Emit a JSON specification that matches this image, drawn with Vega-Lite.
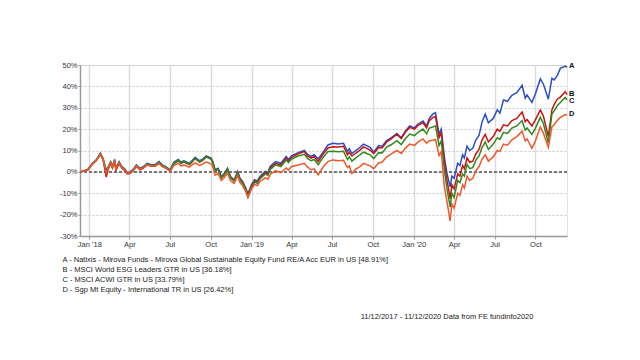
{
  "$schema": "https://vega.github.io/schema/vega-lite/v6.json",
  "autosize": {"type": "none"},
  "width": 487,
  "height": 171,
  "padding": {"left": 80, "top": 65, "right": 73, "bottom": 124},
  "background": "white",
  "config": {
    "font": "Liberation Sans",
    "view": {"stroke": "#e2e2e2"},
    "axis": {"labelFont": "Liberation Sans", "labelFontSize": 7.5, "labelColor": "#333", "domainColor": "#999", "domainWidth": 1.5, "tickColor": "#999", "tickSize": 2},
    "legend": {"labelFont": "Liberation Sans"}
  },
  "title": {"text": "11/12/2017 - 11/12/2020 Data from FE fundinfo2020", "orient": "bottom", "anchor": "end", "fontSize": 7.5, "fontWeight": "normal", "color": "#222", "font": "Liberation Sans", "offset": 19, "dx": -41},
  "data": {"values": [
    {"d":"2017-12-11","A":0,"B":0,"C":0,"D":0},
    {"d":"2017-12-18","A":0.4,"B":0.3,"C":0.3,"D":0.3},
    {"d":"2017-12-29","A":1.2,"B":1,"C":1,"D":1},
    {"d":"2018-01-08","A":4,"B":3.6,"C":3.8,"D":3.7},
    {"d":"2018-01-17","A":5.8,"B":5.3,"C":5.5,"D":5.5},
    {"d":"2018-01-26","A":8.8,"B":8.2,"C":8.5,"D":8.3},
    {"d":"2018-02-01","A":6.2,"B":5.6,"C":6,"D":6},
    {"d":"2018-02-08","A":0.8,"B":-2.4,"C":0,"D":-0.5},
    {"d":"2018-02-13","A":2.6,"B":1.5,"C":2.2,"D":2},
    {"d":"2018-02-18","A":4.8,"B":4,"C":4.5,"D":4.3},
    {"d":"2018-02-22","A":2.6,"B":1.8,"C":2.3,"D":2.2},
    {"d":"2018-02-27","A":5.8,"B":4.8,"C":5.3,"D":5},
    {"d":"2018-03-02","A":1.8,"B":0.8,"C":1.5,"D":1.3},
    {"d":"2018-03-09","A":4.8,"B":3.8,"C":4.3,"D":4.2},
    {"d":"2018-03-15","A":2.6,"B":1.8,"C":2.3,"D":2.2},
    {"d":"2018-03-22","A":1.3,"B":0.5,"C":1,"D":0.8},
    {"d":"2018-03-27","A":-0.3,"B":-1,"C":-0.5,"D":-0.6},
    {"d":"2018-04-02","A":0,"B":-0.8,"C":-0.3,"D":-0.4},
    {"d":"2018-04-09","A":1,"B":0.3,"C":0.7,"D":0.6},
    {"d":"2018-04-17","A":3.3,"B":2.6,"C":3,"D":2.8},
    {"d":"2018-04-25","A":1.7,"B":1,"C":1.4,"D":1.2},
    {"d":"2018-05-03","A":2.5,"B":1.8,"C":2.2,"D":2},
    {"d":"2018-05-11","A":4,"B":3.2,"C":3.6,"D":3.4},
    {"d":"2018-05-21","A":3.3,"B":2.6,"C":3,"D":2.8},
    {"d":"2018-05-29","A":3.4,"B":2.6,"C":3.1,"D":2.8},
    {"d":"2018-06-07","A":4.8,"B":4,"C":4.4,"D":4},
    {"d":"2018-06-14","A":3.3,"B":2.6,"C":3,"D":2.6},
    {"d":"2018-06-22","A":2.5,"B":1.8,"C":2.2,"D":1.7},
    {"d":"2018-07-02","A":1,"B":0.3,"C":0.8,"D":0.3},
    {"d":"2018-07-10","A":4.5,"B":3.8,"C":4,"D":3},
    {"d":"2018-07-20","A":5.8,"B":5.2,"C":5.4,"D":4},
    {"d":"2018-07-26","A":4.6,"B":4,"C":4.2,"D":2.8},
    {"d":"2018-08-02","A":5.2,"B":4.6,"C":4.8,"D":3.2},
    {"d":"2018-08-14","A":4,"B":3.4,"C":3.6,"D":2.2},
    {"d":"2018-08-21","A":5.4,"B":4.8,"C":5,"D":3.4},
    {"d":"2018-08-27","A":6.8,"B":6.2,"C":6.4,"D":4.2},
    {"d":"2018-09-06","A":5.2,"B":4.6,"C":4.8,"D":3},
    {"d":"2018-09-13","A":6,"B":5.4,"C":5.5,"D":3.6},
    {"d":"2018-09-21","A":7.5,"B":7,"C":7,"D":4.6},
    {"d":"2018-10-02","A":6.5,"B":6,"C":6,"D":3.8},
    {"d":"2018-10-06","A":4.8,"B":4.3,"C":4.3,"D":2.2},
    {"d":"2018-10-11","A":1,"B":0.5,"C":0.6,"D":-1.5},
    {"d":"2018-10-18","A":1.7,"B":1.2,"C":1.2,"D":-0.8},
    {"d":"2018-10-25","A":-2.2,"B":-2.8,"C":-2.8,"D":-4},
    {"d":"2018-11-01","A":-0.6,"B":-1.2,"C":-1.2,"D":-2.6},
    {"d":"2018-11-08","A":1.7,"B":1.1,"C":1,"D":-0.6},
    {"d":"2018-11-15","A":-2.2,"B":-2.8,"C":-2.8,"D":-4.2},
    {"d":"2018-11-23","A":-3.7,"B":-4.2,"C":-4.3,"D":-5.4},
    {"d":"2018-12-01","A":0.2,"B":-0.4,"C":-0.6,"D":-1.8},
    {"d":"2018-12-06","A":-3,"B":-3.6,"C":-3.8,"D":-5},
    {"d":"2018-12-12","A":-4.5,"B":-5.1,"C":-5.3,"D":-6.4},
    {"d":"2018-12-19","A":-7.6,"B":-8,"C":-8.4,"D":-9.2},
    {"d":"2018-12-24","A":-10.3,"B":-11,"C":-11.8,"D":-12},
    {"d":"2019-01-01","A":-6,"B":-6.6,"C":-7.2,"D":-8},
    {"d":"2019-01-08","A":-3.7,"B":-4.3,"C":-4.8,"D":-5.8},
    {"d":"2019-01-14","A":-4.2,"B":-4.8,"C":-5.3,"D":-6.4},
    {"d":"2019-01-20","A":-2.2,"B":-2.8,"C":-3.3,"D":-4.5},
    {"d":"2019-02-01","A":0.2,"B":-0.4,"C":-1,"D":-2.8},
    {"d":"2019-02-07","A":-0.4,"B":-1,"C":-1.6,"D":-3.4},
    {"d":"2019-02-12","A":2.5,"B":1.8,"C":1.2,"D":-1.2},
    {"d":"2019-02-24","A":4.8,"B":4,"C":3.3,"D":0.6},
    {"d":"2019-03-08","A":4,"B":3.2,"C":2.5,"D":-0.4},
    {"d":"2019-03-20","A":7.2,"B":6.4,"C":5.6,"D":1.8},
    {"d":"2019-03-25","A":5.8,"B":5,"C":4.3,"D":0.8},
    {"d":"2019-04-01","A":7.5,"B":6.8,"C":6,"D":2.5},
    {"d":"2019-04-16","A":9,"B":8.4,"C":7.4,"D":3.2},
    {"d":"2019-04-30","A":10,"B":9.5,"C":8.2,"D":4},
    {"d":"2019-05-07","A":8.2,"B":7.5,"C":6.3,"D":2.2},
    {"d":"2019-05-15","A":7.2,"B":6.4,"C":5.2,"D":1},
    {"d":"2019-05-22","A":8,"B":7.2,"C":5.8,"D":1.4},
    {"d":"2019-05-31","A":6,"B":4.8,"C":3.3,"D":-1.4},
    {"d":"2019-06-12","A":9.5,"B":8.6,"C":7,"D":2.5},
    {"d":"2019-06-22","A":12.6,"B":11.2,"C":9.5,"D":4.8},
    {"d":"2019-07-03","A":13.4,"B":11.8,"C":9.6,"D":5.6},
    {"d":"2019-07-15","A":13,"B":11.6,"C":9.4,"D":5.2},
    {"d":"2019-07-27","A":13.4,"B":12,"C":9.6,"D":5.4},
    {"d":"2019-08-05","A":9.5,"B":8,"C":5.8,"D":2},
    {"d":"2019-08-09","A":10.8,"B":9.2,"C":7,"D":2.8},
    {"d":"2019-08-15","A":8.5,"B":7.4,"C":5,"D":-0.8},
    {"d":"2019-08-23","A":9.8,"B":8.6,"C":6.4,"D":1.2},
    {"d":"2019-09-02","A":11.5,"B":10.2,"C":8,"D":2.5},
    {"d":"2019-09-10","A":13,"B":11.7,"C":9.2,"D":4},
    {"d":"2019-09-25","A":11.5,"B":10.2,"C":8,"D":2.8},
    {"d":"2019-10-03","A":9.2,"B":8.5,"C":6.2,"D":1.5},
    {"d":"2019-10-14","A":12.3,"B":11.4,"C":9,"D":4.2},
    {"d":"2019-10-22","A":12,"B":11.2,"C":8.8,"D":4.6},
    {"d":"2019-11-01","A":14.6,"B":14,"C":11.6,"D":7},
    {"d":"2019-11-12","A":16,"B":15.5,"C":12.8,"D":8.4},
    {"d":"2019-11-24","A":18,"B":17.6,"C":14.6,"D":10},
    {"d":"2019-12-04","A":16,"B":15.6,"C":12.8,"D":8.6},
    {"d":"2019-12-13","A":19,"B":18.5,"C":15.5,"D":11},
    {"d":"2019-12-23","A":21.5,"B":20.8,"C":17.7,"D":13},
    {"d":"2020-01-03","A":20.6,"B":20,"C":17,"D":12.4},
    {"d":"2020-01-10","A":22.3,"B":21.6,"C":18.4,"D":13.8},
    {"d":"2020-01-22","A":23.8,"B":23,"C":20,"D":15.4},
    {"d":"2020-01-30","A":21.5,"B":20.6,"C":17.8,"D":13.4},
    {"d":"2020-02-05","A":25,"B":24,"C":20.5,"D":14.6},
    {"d":"2020-02-13","A":27,"B":25.4,"C":21,"D":14.8},
    {"d":"2020-02-19","A":27.7,"B":26,"C":21.5,"D":15.2},
    {"d":"2020-02-27","A":17.7,"B":16,"C":12.3,"D":7.7},
    {"d":"2020-03-03","A":20,"B":18.5,"C":14.5,"D":9.5},
    {"d":"2020-03-10","A":7,"B":4.6,"C":0.8,"D":-7},
    {"d":"2020-03-16","A":-0.8,"B":-4,"C":-8,"D":-14},
    {"d":"2020-03-23","A":-7,"B":-12.5,"C":-16.5,"D":-23},
    {"d":"2020-03-27","A":-2,"B":-6,"C":-10,"D":-15},
    {"d":"2020-04-01","A":-3,"B":-8,"C":-12,"D":-17},
    {"d":"2020-04-09","A":4,"B":-1,"C":-4,"D":-10},
    {"d":"2020-04-14","A":3,"B":-2,"C":-5,"D":-11},
    {"d":"2020-04-20","A":8,"B":3,"C":-1,"D":-6},
    {"d":"2020-04-24","A":6.5,"B":1.5,"C":-2,"D":-7.5},
    {"d":"2020-04-30","A":12,"B":6.5,"C":3.5,"D":-2},
    {"d":"2020-05-06","A":10,"B":4.5,"C":1.5,"D":-4},
    {"d":"2020-05-13","A":11,"B":5,"C":2,"D":-3},
    {"d":"2020-05-20","A":15,"B":8.5,"C":5.5,"D":0.5},
    {"d":"2020-05-27","A":17,"B":10.5,"C":7.5,"D":2.5},
    {"d":"2020-06-03","A":23.5,"B":15,"C":11.5,"D":6},
    {"d":"2020-06-10","A":27,"B":17.5,"C":14,"D":8},
    {"d":"2020-06-17","A":23,"B":14,"C":10.5,"D":5},
    {"d":"2020-06-28","A":25,"B":16.5,"C":13,"D":7},
    {"d":"2020-07-07","A":29,"B":20,"C":16,"D":10},
    {"d":"2020-07-13","A":27.5,"B":19,"C":15.2,"D":9.6},
    {"d":"2020-07-21","A":33.6,"B":22,"C":18.5,"D":13},
    {"d":"2020-07-30","A":33,"B":21.5,"C":18,"D":12.5},
    {"d":"2020-08-09","A":35.8,"B":24,"C":20.5,"D":15},
    {"d":"2020-08-20","A":37,"B":25,"C":21.5,"D":16.5},
    {"d":"2020-09-01","A":40.5,"B":28,"C":24,"D":19},
    {"d":"2020-09-08","A":34.5,"B":23.5,"C":19.5,"D":14.5},
    {"d":"2020-09-12","A":36,"B":24.5,"C":20.5,"D":15.5},
    {"d":"2020-09-23","A":32.5,"B":21.5,"C":17.5,"D":11},
    {"d":"2020-09-30","A":36,"B":24,"C":20,"D":14},
    {"d":"2020-10-12","A":43.5,"B":29,"C":25.5,"D":21},
    {"d":"2020-10-19","A":41,"B":26,"C":22.5,"D":18},
    {"d":"2020-10-30","A":34,"B":16.5,"C":13.5,"D":11.5},
    {"d":"2020-11-07","A":43.8,"B":29,"C":27,"D":21},
    {"d":"2020-11-12","A":43,"B":31.5,"C":28.5,"D":22},
    {"d":"2020-11-19","A":45,"B":34,"C":31,"D":24},
    {"d":"2020-11-26","A":48.4,"B":35,"C":32.5,"D":25.5},
    {"d":"2020-12-07","A":49.5,"B":37.5,"C":34.8,"D":26.8},
    {"d":"2020-12-11","A":48.91,"B":36.18,"C":33.79,"D":26.42}
  ]},
  "transform": [{"fold": ["A", "B", "C", "D"], "as": ["s", "v"]}],
  "encoding": {
    "x": {
      "field": "d", "type": "temporal", "title": null,
      "scale": {"type": "utc", "domain": [{"year": 2017, "month": 12, "date": 11, "utc": true}, {"year": 2020, "month": 12, "date": 11, "utc": true}]},
      "axis": {
        "values": [
          {"year": 2018, "month": 1, "date": 1, "utc": true},
          {"year": 2018, "month": 4, "date": 1, "utc": true},
          {"year": 2018, "month": 7, "date": 1, "utc": true},
          {"year": 2018, "month": 10, "date": 1, "utc": true},
          {"year": 2019, "month": 1, "date": 1, "utc": true},
          {"year": 2019, "month": 4, "date": 1, "utc": true},
          {"year": 2019, "month": 7, "date": 1, "utc": true},
          {"year": 2019, "month": 10, "date": 1, "utc": true},
          {"year": 2020, "month": 1, "date": 1, "utc": true},
          {"year": 2020, "month": 4, "date": 1, "utc": true},
          {"year": 2020, "month": 7, "date": 1, "utc": true},
          {"year": 2020, "month": 10, "date": 1, "utc": true}
        ],
        "labelExpr": "utcFormat(datum.value, '%m') == '01' ? utcFormat(datum.value, \"%b '%y\") : utcFormat(datum.value, '%b')",
        "grid": true, "gridColor": "#dcdcdc", "gridWidth": 1.5,
        "labelPadding": 1, "tickSize": 3, "labelAlign": "center"
      }
    },
    "y": {
      "field": "v", "type": "quantitative", "title": null,
      "scale": {"domain": [-30, 50], "nice": false},
      "axis": {
        "values": [-30, -20, -10, 0, 10, 20, 30, 40, 50],
        "labelExpr": "datum.value + '%'",
        "grid": true, "gridColor": "#c8c8c8", "gridDash": [2, 2], "gridWidth": 1,
        "labelPadding": 1, "tickSize": 2
      }
    }
  },
  "layer": [
    {
      "mark": {"type": "rule", "color": "#777", "strokeDash": [3, 2], "strokeWidth": 1},
      "encoding": {"y": {"datum": 0}, "x": null}
    },
    {
      "mark": {"type": "line", "strokeWidth": 1.5, "interpolate": "linear"},
      "encoding": {
        "color": {
          "field": "s", "type": "nominal",
          "scale": {"domain": ["A", "B", "C", "D"], "range": ["#2a4fc4", "#cc1111", "#2e8a1e", "#f0582a"]},
          "legend": {
            "orient": "none", "legendX": -29, "legendY": 191, "title": null,
            "symbolType": "square", "symbolSize": 20, "symbolStrokeWidth": 0,
            "labelFontSize": 7.5, "labelColor": "#222", "labelLimit": 600, "labelOffset": 4,
            "rowPadding": 1.2, "padding": 0,
            "labelExpr": "datum.label == 'A' ? 'A - Natixis - Mirova Funds - Mirova Global Sustainable Equity Fund RE/A Acc EUR in US [48.91%]' : datum.label == 'B' ? 'B - MSCI World ESG Leaders GTR in US [36.18%]' : datum.label == 'C' ? 'C - MSCI ACWI GTR in US [33.79%]' : 'D - Sgp Mt Equity - International TR in US [26.42%]'"
          }
        }
      }
    },
    {
      "transform": [{"filter": "datum.s != 'C'"}],
      "mark": {"type": "text", "align": "left", "dx": 2, "dy": -1, "fontSize": 7.5, "fontWeight": "bold", "color": "#111"},
      "encoding": {
        "x": {"field": "d", "type": "temporal", "aggregate": "max"},
        "y": {"field": "v", "type": "quantitative", "aggregate": {"argmax": "d"}},
        "text": {"field": "s", "type": "nominal"}
      }
    },
    {
      "transform": [{"filter": "datum.s == 'C'"}],
      "mark": {"type": "text", "align": "left", "dx": 2, "dy": 1.5, "fontSize": 7.5, "fontWeight": "bold", "color": "#111"},
      "encoding": {
        "x": {"field": "d", "type": "temporal", "aggregate": "max"},
        "y": {"field": "v", "type": "quantitative", "aggregate": {"argmax": "d"}},
        "text": {"field": "s", "type": "nominal"}
      }
    }
  ]
}
